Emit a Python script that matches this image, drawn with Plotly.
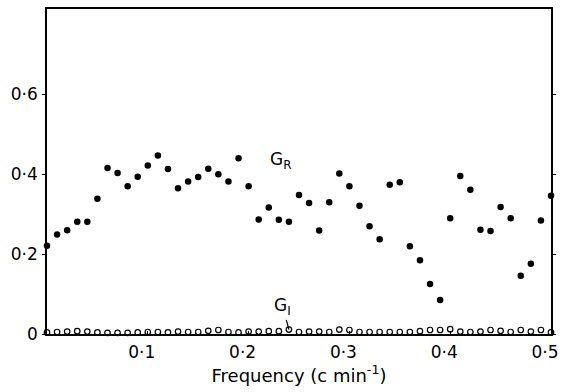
import plotly.graph_objects as go

freq = [round(i * 0.01, 2) for i in range(51)]

g_r = [0.221, 0.249, 0.260, 0.281, 0.281, 0.339, 0.416, 0.403, 0.370, 0.394,
       0.422, 0.447, 0.413, 0.365, 0.382, 0.393, 0.414, 0.400, 0.382, 0.440,
       0.370, 0.287, 0.317, 0.286, 0.281, 0.348, 0.328, 0.259, 0.330, 0.402,
       0.370, 0.321, 0.270, 0.237, 0.374, 0.380, 0.220, 0.185, 0.125, 0.085,
       0.290, 0.396, 0.361, 0.261, 0.258, 0.318, 0.290, 0.146, 0.176, 0.284,
       0.346]

g_i = [0.004, 0.005, 0.006, 0.007, 0.006, 0.004, 0.003, 0.003, 0.003, 0.004,
       0.005, 0.005, 0.004, 0.006, 0.005, 0.005, 0.008, 0.010, 0.005, 0.004,
       0.006, 0.006, 0.007, 0.007, 0.011, 0.005, 0.006, 0.006, 0.005, 0.011,
       0.010, 0.005, 0.005, 0.005, 0.005, 0.005, 0.005, 0.007, 0.010, 0.010,
       0.012, 0.006, 0.005, 0.006, 0.010, 0.008, 0.005, 0.010, 0.006, 0.010,
       0.004]

x_ticks = [0.1, 0.2, 0.3, 0.4, 0.5]
x_tick_text = ["0·1", "0·2", "0·3", "0·4", "0·5"]
y_ticks = [0, 0.2, 0.4, 0.6]
y_tick_text = ["0", "0·2", "0·4", "0·6"]

FONT = "DejaVu Sans"

fig = go.Figure()
fig.add_trace(go.Scatter(
    x=freq, y=g_i, mode="markers", cliponaxis=False,
    marker=dict(symbol="circle-open", size=5.5, color="black", line=dict(width=1.2)),
    showlegend=False))
fig.add_trace(go.Scatter(
    x=freq, y=g_r, mode="markers", cliponaxis=False,
    marker=dict(symbol="circle", size=6.5, color="black"),
    showlegend=False))

fig.add_annotation(x=0.232, y=0.435, text="G<sub>R</sub>", showarrow=False,
                   font=dict(family=FONT, size=17, color="black"))
fig.add_annotation(x=0.24, y=0.011, ax=0.234, ay=0.068, axref="x", ayref="y",
                   text="G<sub>I</sub>", showarrow=True, arrowhead=0, arrowwidth=1.2,
                   arrowcolor="black", standoff=0,
                   font=dict(family=FONT, size=17, color="black"))

fig.update_layout(
    width=566, height=392,
    margin=dict(l=47, r=12, t=7, b=58),
    paper_bgcolor="white", plot_bgcolor="white",
    font=dict(family=FONT, size=17, color="black"),
)
fig.update_xaxes(
    range=[0, 0.5], tickvals=x_ticks, ticktext=x_tick_text,
    ticks="inside", ticklen=3, tickwidth=1.2, tickcolor="black",
    showline=True, linecolor="black", linewidth=1.5, mirror=True,
    showgrid=False, zeroline=False, ticklabelshift=-6, ticklabelstandoff=2,
    title=dict(text="Frequency (c min<sup>-1</sup>)", font=dict(size=18), standoff=8),
)
fig.update_yaxes(
    range=[0, 0.814], tickvals=y_ticks, ticktext=y_tick_text,
    ticks="outside", ticklen=3, tickwidth=1.2, tickcolor="black",
    showline=True, linecolor="black", linewidth=1.5, mirror="ticks",
    showgrid=False, zeroline=False, ticklabelstandoff=1,
)

fig.write_html("out.html")
